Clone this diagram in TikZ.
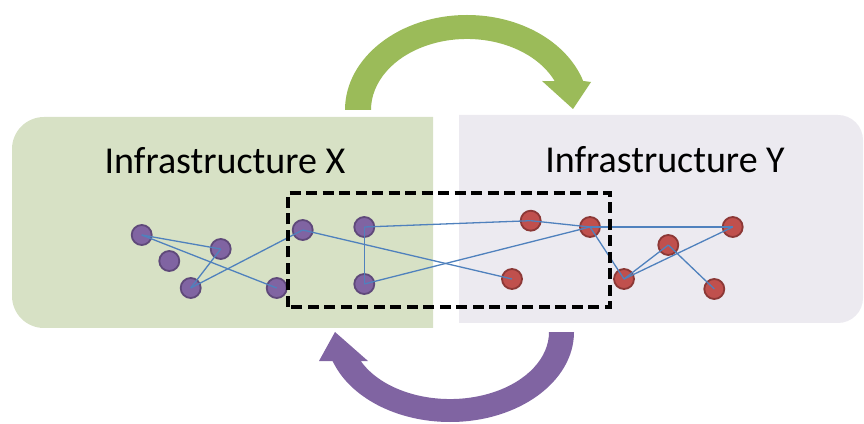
\documentclass[tikz,border=0pt]{standalone}
\usepackage{fontspec}
\setmainfont{Carlito}
\definecolor{boxX}{HTML}{D7E1C5}
\definecolor{boxY}{HTML}{ECEAF0}
\definecolor{arrowG}{HTML}{9BBB59}
\definecolor{arrowP}{HTML}{8064A2}
\definecolor{nodeP}{HTML}{8064A2}
\definecolor{nodePedge}{HTML}{5F497A}
\definecolor{nodeR}{HTML}{C0504D}
\definecolor{nodeRedge}{HTML}{8C3836}
\definecolor{link}{HTML}{4F81BD}
\tikzset{
  pnode/.style={circle, fill=nodeP, draw=nodePedge, line width=1.8pt, minimum size=20pt, inner sep=0pt},
  rnode/.style={circle, fill=nodeR, draw=nodeRedge, line width=1.8pt, minimum size=20pt, inner sep=0pt},
  linkline/.style={draw=link, line width=1.3pt},
  title/.style={font=\fontsize{38}{40}\selectfont, text=black, anchor=base, inner sep=0pt},
  overlapbox/.style={draw=black, line width=3.5pt, dash pattern=on 11pt off 5.5pt},
}
\begin{document}
\begin{tikzpicture}[x=1pt,y=1pt]
\useasboundingbox (0,0) rectangle (864,423);

% the two infrastructure panels
\fill[boxX] (433,95) -- (44,95) arc[start angle=270,end angle=180,radius=32pt]
  -- (12,274) arc[start angle=180,end angle=90,radius=32pt] -- (433,306) -- cycle;
\fill[boxY] (459,100) -- (459,308) -- (838,308) arc[start angle=90,end angle=0,radius=25pt]
  -- (863,125) arc[start angle=0,end angle=-90,radius=25pt] -- cycle;

% curved arrows: X to Y above, Y to X below
\fill[arrowG] (345,313) arc[start angle=180,end angle=17.8,x radius=122pt,y radius=95pt]
  -- (591,341) -- (573,314) -- (542,342) -- (554.7,341.9)
  arc[start angle=24,end angle=180,x radius=96pt,y radius=71pt] -- cycle;
\fill[arrowP] (574,91) arc[start angle=360,end angle=198.8,x radius=124pt,y radius=90pt]
  -- (319,62) -- (335,91) -- (368,62) -- (360.8,61.9)
  arc[start angle=205.7,end angle=360,x radius=99pt,y radius=67pt] -- cycle;

% panel titles
\node[title] (tx) at (225,249) {Infrastructure X};
\node[title] (ty) at (665,250) {Infrastructure Y};

% network X
\node[pnode] (p1) at (141.7,188) {};
\node[pnode] (p2) at (220.7,174) {};
\node[pnode] (p3) at (169.3,162) {};
\node[pnode] (p4) at (190.7,135) {};
\node[pnode] (p5) at (276.7,135) {};
\node[pnode] (p6) at (302.7,193) {};
\node[pnode] (p7) at (364.3,196) {};
\node[pnode] (p8) at (364.3,139) {};

% network Y
\node[rnode] (r1) at (530.7,202.3) {};
\node[rnode] (r2) at (590,196) {};
\node[rnode] (r3) at (512,144) {};
\node[rnode] (r4) at (624,144) {};
\node[rnode] (r5) at (668.3,178) {};
\node[rnode] (r6) at (732.7,196) {};
\node[rnode] (r7) at (714.3,134) {};

% links
\draw[linkline] (p1.center) -- (p2.center);
\draw[linkline] (p1.center) -- (p5.center);
\draw[linkline] (p2.center) -- (p4.center);
\draw[linkline] (p4.center) -- (p6.center);
\draw[linkline] (p6.center) -- (r3.center);
\draw[linkline] (p7.center) -- (p8.center);
\draw[linkline] (p7.center) -- (r1.center);
\draw[linkline] (p8.center) -- (r2.center);
\draw[linkline] (r1.center) -- (r2.center);
\draw[linkline] (r2.center) -- (r6.center);
\draw[linkline] (r2.center) -- (r4.center);
\draw[linkline] (r4.center) -- (r5.center);
\draw[linkline] (r4.center) -- (r6.center);
\draw[linkline] (r5.center) -- (r7.center);

% interdependent region
\draw[overlapbox] (288,116) rectangle (610,230);
\end{tikzpicture}
\end{document}
